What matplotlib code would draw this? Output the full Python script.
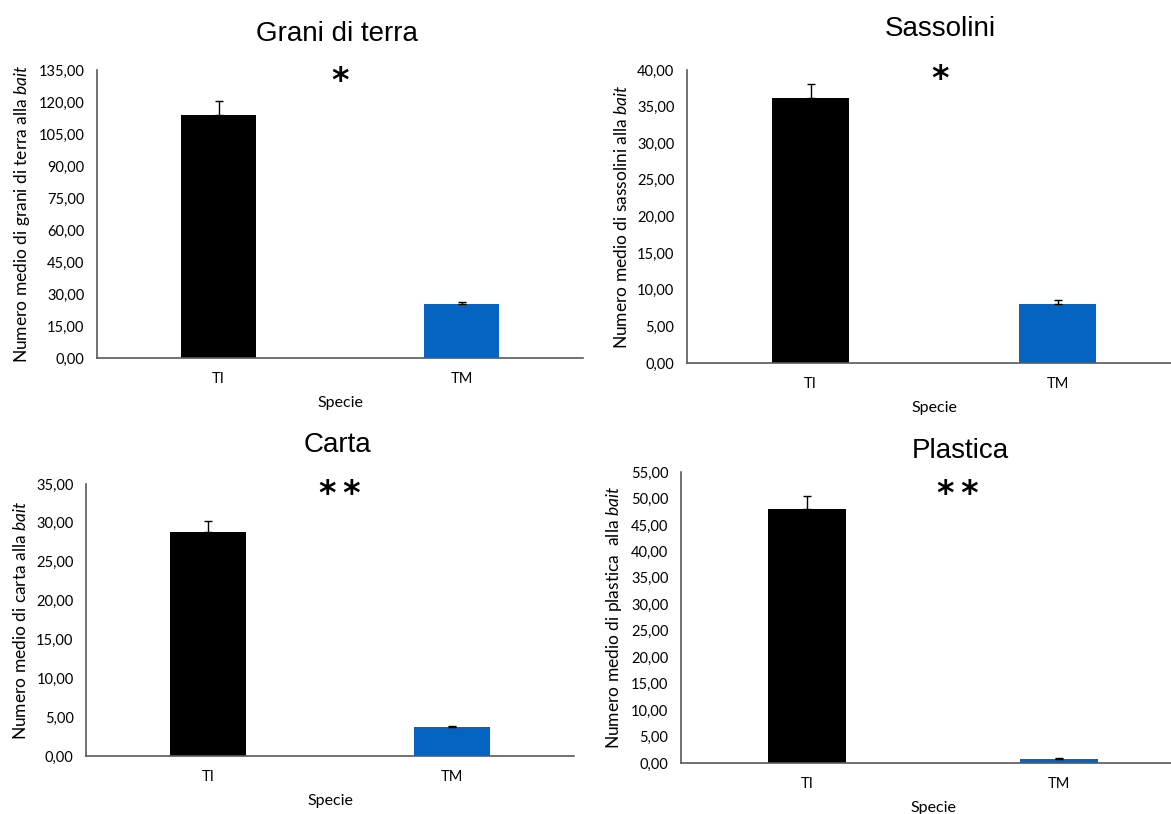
import matplotlib
matplotlib.use("Agg")
import matplotlib.pyplot as plt
from matplotlib.ticker import FuncFormatter, MultipleLocator

# Mean counts per bait, by species (TI, TM), with standard errors
species = ["TI", "TM"]

grani_mean = [113.9, 25.3]
grani_err = [6.5, 0.8]

sassolini_mean = [36.2, 8.05]
sassolini_err = [1.9, 0.5]

carta_mean = [28.8, 3.7]
carta_err = [1.4, 0.2]

plastica_mean = [48.0, 0.75]
plastica_err = [2.5, 0.2]

titles = ["Grani di terra", "Sassolini", "Carta", "Plastica"]
ylabels = [
    "Numero medio di grani di terra alla $\\mathit{bait}$",
    "Numero medio di sassolini alla $\\mathit{bait}$",
    "Numero medio di carta alla $\\mathit{bait}$",
    "Numero medio di plastica  alla $\\mathit{bait}$",
]
stars = ["*", "*", "*\u2009*", "*\u2009*"]
ymax = [135, 40, 35, 55]
ystep = [15, 5, 5, 5]

plt.rcParams["font.family"] = ["Lato", "DejaVu Sans"]
plt.rcParams["mathtext.fontset"] = "custom"
plt.rcParams["mathtext.rm"] = "Lato"
plt.rcParams["mathtext.it"] = "Lato:italic"

W, H = 1171, 814
fig = plt.figure(figsize=(W / 100, H / 100), dpi=100)


def box(left, bottom, width, height):
    # pixel box (top-left origin) -> figure fraction
    return [left / W, 1 - bottom / H, width / W, height / H]


panels = [
    dict(rect=box(97, 358, 486, 288), mean=grani_mean, err=grani_err,
         title_xy=(337, 34), star_xy=(340, 82)),
    dict(rect=box(687, 363, 494, 293), mean=sassolini_mean, err=sassolini_err,
         title_xy=(940, 29), star_xy=(940, 80)),
    dict(rect=box(86, 756, 488, 272), mean=carta_mean, err=carta_err,
         title_xy=(337, 445), star_xy=(340, 494)),
    dict(rect=box(681, 763, 504, 291), mean=plastica_mean, err=plastica_err,
         title_xy=(960, 451), star_xy=(958, 495)),
]

colors = ["#000000", "#0563C1"]
fmt = FuncFormatter(lambda v, p: f"{v:.2f}".replace(".", ","))

for i, p in enumerate(panels):
    ax = fig.add_axes(p["rect"])
    x = [0.5, 1.5]
    ax.bar(x, p["mean"], width=0.31, color=colors, linewidth=0, zorder=2)
    ax.errorbar(x, p["mean"], yerr=[[0, 0], p["err"]], fmt="none",
                ecolor="black", elinewidth=1.0, capsize=3, capthick=1.0,
                zorder=3)
    ax.set_xlim(0, 2)
    ax.set_ylim(0, ymax[i])
    ax.yaxis.set_major_locator(MultipleLocator(ystep[i]))
    ax.yaxis.set_major_formatter(fmt)
    ax.set_xticks(x)
    ax.set_xticklabels(species)
    for s in ["top", "right"]:
        ax.spines[s].set_visible(False)
    for s in ["left", "bottom"]:
        ax.spines[s].set_color("#595959")
        ax.spines[s].set_linewidth(1.2)
    ax.tick_params(axis="both", length=0, labelsize=10.5, colors="#000000")
    ax.tick_params(axis="x", pad=10)
    ax.tick_params(axis="y", pad=9)
    ax.set_xlabel("Specie", fontsize=11.5, labelpad=7)
    ax.set_ylabel(ylabels[i], fontsize=12.5, labelpad=5)

    tx, ty = p["title_xy"]
    fig.text(tx / W, 1 - ty / H, titles[i], ha="center", va="center",
             fontsize=20, family=["Liberation Sans", "DejaVu Sans"])
    sx, sy = p["star_xy"]
    fig.text(sx / W, 1 - sy / H, stars[i], ha="center", va="center",
             fontsize=24, fontweight="bold", family=["DejaVu Sans"])

fig.savefig("out.png", dpi=100, facecolor="white")
